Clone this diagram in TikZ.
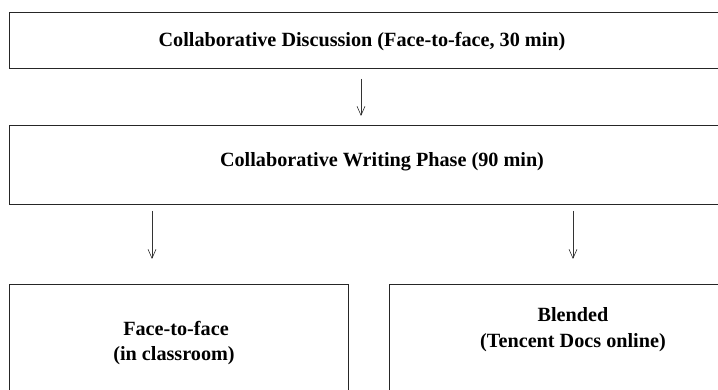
\documentclass[tikz,border=0pt]{standalone}
\usepackage{fontspec}
\setmainfont{Liberation Serif}
\usetikzlibrary{arrows.meta}
\begin{document}
\begin{tikzpicture}[x=1pt,y=-1pt,
  box/.style={draw=black!85, line width=1.4pt, inner sep=0pt, anchor=north west},
  lbl/.style={font=\bfseries\fontsize{20.2}{24}\selectfont, inner sep=0pt, anchor=base},
  arr/.style={draw=black!80, line width=0.7pt, -{Straight Barb[length=9pt,width=8pt,line width=0.6pt]}}]
\useasboundingbox (0,0) rectangle (718,390);
\clip (0,0) rectangle (718,390);
\fill[white] (0,0) rectangle (718,390);
% boxes
\node[box, minimum width=711pt, minimum height=56pt] (disc) at (9,12) {};
\node[box, minimum width=711pt, minimum height=79pt] (writ) at (9,125) {};
\node[box, minimum width=339pt, minimum height=120pt] (f2f) at (9,284) {};
\node[box, minimum width=368pt, minimum height=120pt] (blend) at (389,284) {};
% texts
\node[lbl] (tdisc) at (362,47) {Collaborative Discussion (Face-to-face, 30 min)};
\node[lbl] (twrit) at (382,167) {Collaborative Writing Phase (90 min)};
\node[lbl] (tf2fa) at (176,335) {Face-to-face};
\node[lbl] (tf2fb) at (174,360) {(in classroom)};
\node[lbl] (tblenda) at (573,322) {Blended};
\node[lbl] (tblendb) at (573,347) {(Tencent Docs online)};
% arrows
\coordinate (a1s) at (361,79);
\coordinate (a1e) at (361,116);
\coordinate (a2s) at (152,211);
\coordinate (a2e) at (152,259);
\coordinate (a3s) at (573,211);
\coordinate (a3e) at (573,259);
\draw[arr] (a1s) -- (a1e);
\draw[arr] (a2s) -- (a2e);
\draw[arr] (a3s) -- (a3e);
\end{tikzpicture}
\end{document}
